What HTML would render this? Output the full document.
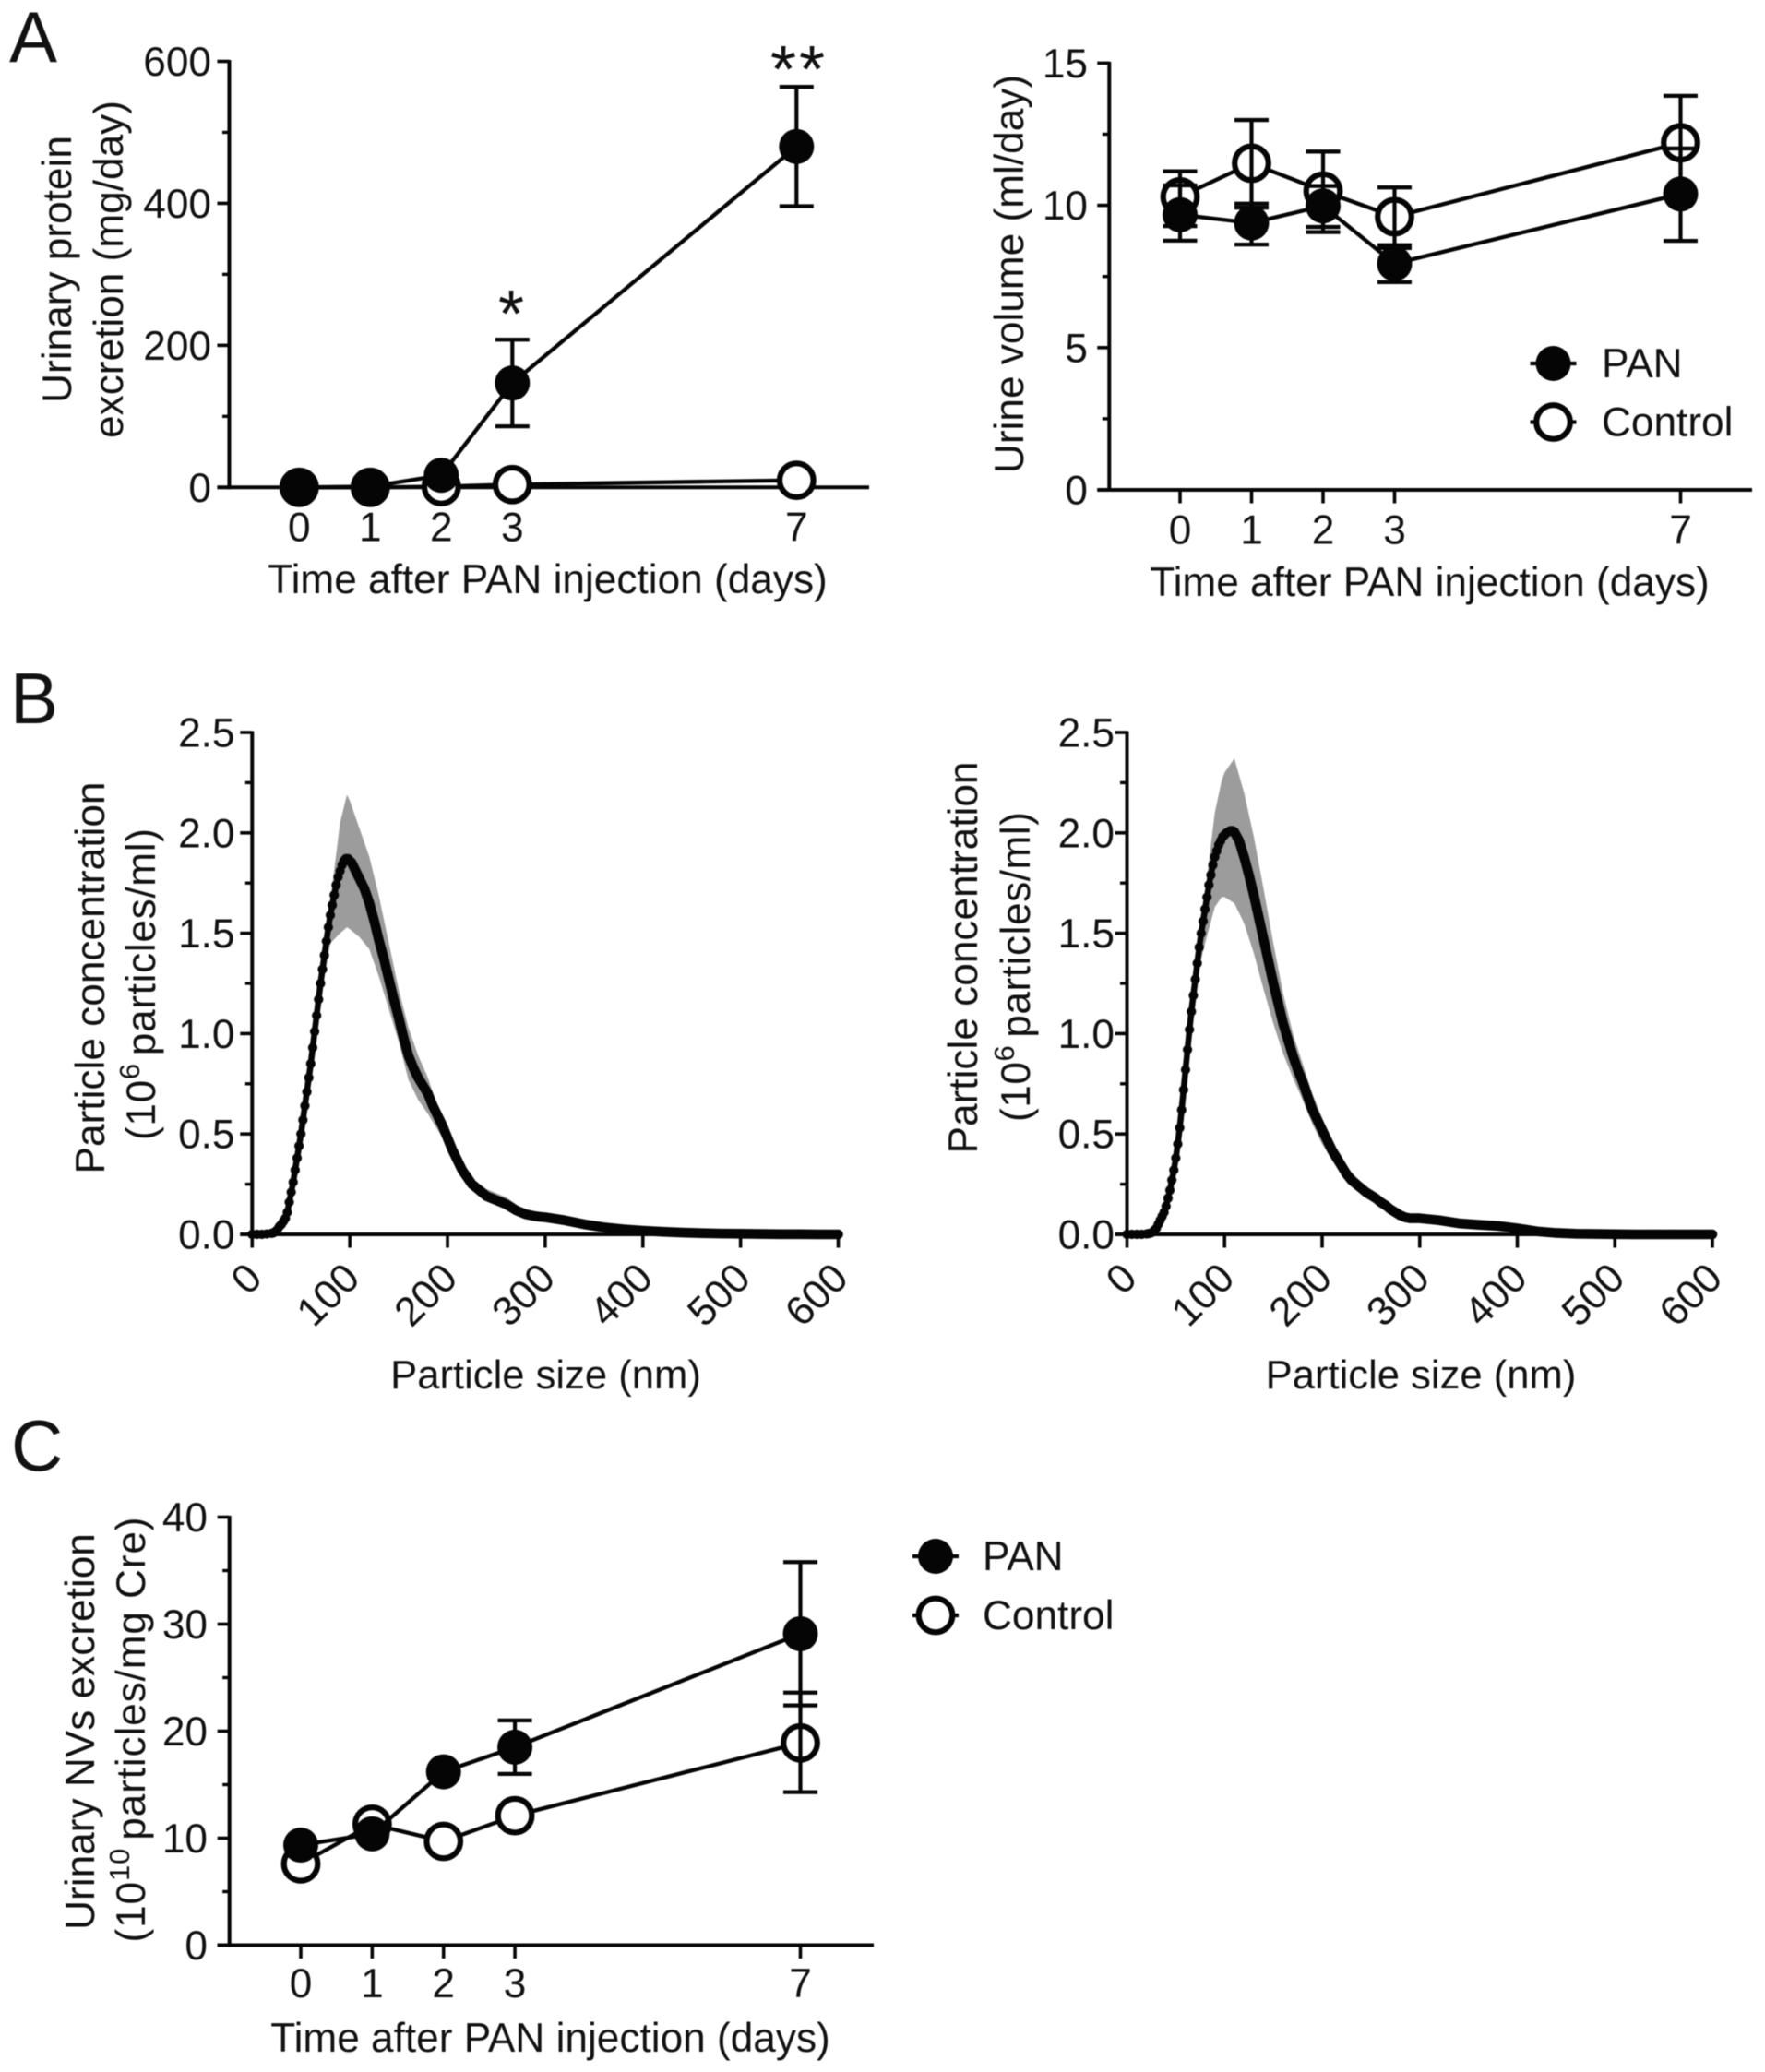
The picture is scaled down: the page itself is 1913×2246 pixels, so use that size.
<!DOCTYPE html>
<html lang="en">
<head>
<meta charset="utf-8">
<title>PAN nephrosis urinary measurements</title>
<style>
html,body{margin:0;padding:0;background:#fff;}
svg{display:block;filter:blur(0.6px);}
text{font-family:"Liberation Sans",Arial,sans-serif;font-size:44.2px;fill:#111;}
.panel{font-size:78px;}
</style>
</head>
<body>
<svg id="figure" width="1913" height="2246" viewBox="0 0 1913 2246" xmlns="http://www.w3.org/2000/svg">
<rect x="0" y="0" width="1913" height="2246" fill="#fff"/>
<text class="panel" x="10" y="67">A</text>
<text class="panel" x="11" y="784">B</text>
<text class="panel" x="12" y="1594">C</text>

<text transform="translate(77,292) rotate(-90)" text-anchor="middle">Urinary protein</text>
<text transform="translate(133,292) rotate(-90)" text-anchor="middle">excretion (mg/day)</text>
<text x="593.5" y="643" text-anchor="middle">Time after PAN injection (days)</text>
<text x="554" y="365" text-anchor="middle" style="font-size:72px">*</text>
<text x="866" y="100" text-anchor="middle" style="font-size:72px;letter-spacing:3px">**</text>

<text transform="translate(1109,297) rotate(-90)" text-anchor="middle">Urine volume (ml/day)</text>
<text x="1549.5" y="646" text-anchor="middle">Time after PAN injection (days)</text>

<text transform="translate(113,1060) rotate(-90)" text-anchor="middle">Particle concentration</text>
<text transform="translate(168,1067) rotate(-90)" text-anchor="middle" textLength="338">(10<tspan dy="-17" style="font-size:31px">6</tspan><tspan dy="17" dx="8">particles/ml)</tspan></text>
<text x="591.5" y="1505" text-anchor="middle" style="font-size:43.6px">Particle size (nm)</text>

<text transform="translate(1059,1038) rotate(-90)" text-anchor="middle">Particle concentration</text>
<text transform="translate(1116,1048) rotate(-90)" text-anchor="middle" textLength="336">(10<tspan dy="-17" style="font-size:31px">6</tspan><tspan dy="17" dx="8">particles/ml)</tspan></text>
<text x="1540" y="1505" text-anchor="middle" style="font-size:43.6px">Particle size (nm)</text>

<text transform="translate(102,1877) rotate(-90)" text-anchor="middle">Urinary NVs excretion</text>
<text transform="translate(157,1875) rotate(-90)" text-anchor="middle" textLength="461">(10<tspan dy="-17" style="font-size:31px">10</tspan><tspan dy="17" dx="8">particles/mg Cre)</tspan></text>
<text x="596.5" y="2224" text-anchor="middle">Time after PAN injection (days)</text>
</svg>

<script>
// ---------- shared categories and tick labels ----------
const dayCategories = [0, 1, 2, 3, 7];
const proteinTicks = [0, 200, 400, 600];
const proteinMinorTicks = [100, 300, 500];
const volumeTicks = [0, 5, 10, 15];
const volumeMinorTicks = [2.5, 7.5, 12.5];
const concentrationTicks = ["0.0", "0.5", "1.0", "1.5", "2.0", "2.5"];
const concentrationMinorTicks = [0.25, 0.75, 1.25, 1.75, 2.25];
const sizeTicks = [0, 100, 200, 300, 400, 500, 600];
const nvTicks = [0, 10, 20, 30, 40];
const nvMinorTicks = [5, 15, 25, 35];

// ---------- A: urinary protein ----------
const proteinPan = [0, 1, 17, 147, 480];
const proteinPanUpper = [null, null, null, 208, 564];
const proteinPanLower = [null, null, null, 86, 396];
const proteinControl = [0, 0, 1, 4, 10];

// ---------- A: urine volume ----------
const volumePan = [9.67, 9.38, 9.98, 7.95, 10.4];
const volumePanUpper = [10.7, 10.06, 10.68, 8.6, 12.0];
const volumePanLower = [8.76, 8.62, 9.06, 7.3, 8.75];
const volumeControl = [10.3, 11.48, 10.5, 9.6, 12.2];
const volumeControlUpper = [11.2, 13.0, 11.89, 10.63, 13.85];
const volumeControlLower = [9.27, 9.92, 9.24, 8.5, 10.5];

// ---------- B: particle size distributions ----------
const particleSizes = [
  0, 5, 10, 15,
  20, 22, 24, 26, 28, 30, 32, 34, 36, 38,
  40, 42, 44, 46, 48, 50, 52, 54, 56, 58,
  60, 62, 64, 66, 68, 70, 72, 74, 76, 78,
  80, 82, 84, 86, 88, 90, 92, 94, 96, 98,
  100, 102, 104, 106, 108, 110,
  115, 120, 125, 130, 135, 140, 145, 150, 155, 160,
  165, 170, 175, 180, 185, 190, 195, 200, 205, 210,
  215, 220, 225, 230, 235, 240, 245, 250, 255, 260,
  265, 270, 275, 280, 285, 290, 295, 300,
  320, 340, 360, 380, 400, 420, 440, 460, 480, 500,
  520, 540, 560, 580, 600
];
const leftMean = [
  0, 0, 0, 0.002,
  0.005, 0.008, 0.015, 0.025, 0.04, 0.05, 0.065, 0.08, 0.11, 0.16,
  0.21, 0.26, 0.32, 0.38, 0.44, 0.5, 0.57, 0.64, 0.71, 0.78,
  0.85, 0.93, 1.01, 1.09, 1.17, 1.25, 1.32, 1.39, 1.46, 1.53,
  1.59, 1.64, 1.69, 1.74, 1.78, 1.81, 1.84, 1.86, 1.87, 1.87,
  1.86, 1.85, 1.83, 1.81, 1.79, 1.77,
  1.72, 1.65, 1.56, 1.46, 1.37, 1.27, 1.17, 1.08, 0.98, 0.89,
  0.83, 0.78, 0.74, 0.70, 0.64, 0.59, 0.54, 0.48, 0.42, 0.37,
  0.32, 0.285, 0.25, 0.23, 0.21, 0.19, 0.18, 0.17, 0.16, 0.15,
  0.135, 0.12, 0.11, 0.10, 0.095, 0.09, 0.087, 0.085,
  0.07, 0.05, 0.035, 0.025, 0.018, 0.013, 0.009, 0.006, 0.004, 0.003,
  0.002, 0.001, 0.001, 0, 0
];
const rightMean = [
  0, 0, 0, 0,
  0.002, 0.004, 0.006, 0.01, 0.02, 0.03, 0.05, 0.07, 0.09, 0.11,
  0.14, 0.18, 0.22, 0.27, 0.32, 0.38, 0.45, 0.53, 0.62, 0.72,
  0.82, 0.92, 1.02, 1.11, 1.19, 1.27, 1.35, 1.43, 1.50, 1.56,
  1.62, 1.68, 1.74, 1.79, 1.84, 1.88, 1.91, 1.94, 1.96, 1.98,
  1.99, 2.0, 2.005, 2.01, 2.01, 2.005,
  1.96, 1.88, 1.79, 1.69, 1.58, 1.47, 1.36, 1.25, 1.15, 1.05,
  0.97, 0.89, 0.82, 0.76, 0.69, 0.62, 0.57, 0.52, 0.47, 0.42,
  0.38, 0.34, 0.30, 0.27, 0.25, 0.23, 0.21, 0.195, 0.18, 0.16,
  0.145, 0.125, 0.11, 0.095, 0.085, 0.08, 0.08, 0.08,
  0.07, 0.055, 0.048, 0.042, 0.03, 0.015, 0.007, 0.003, 0.002, 0.001,
  0, 0, 0, 0, 0
];
const bandSizes = [60, 70, 80, 90, 97, 100, 110, 120, 130, 140, 150, 160, 170, 180, 190, 200, 210, 220, 230, 240, 250, 260, 270, 280, 290, 300, 310];
const leftUpper = [0.85, 1.27, 1.66, 2.05, 2.19, 2.16, 2.02, 1.88, 1.68, 1.45, 1.22, 1.03, 0.89, 0.78, 0.63, 0.5, 0.39, 0.31, 0.26, 0.225, 0.205, 0.185, 0.15, 0.115, 0.10, 0.09, 0.08];
const leftLower = [0.85, 1.18, 1.45, 1.5, 1.53, 1.52, 1.48, 1.42, 1.28, 1.12, 0.96, 0.77, 0.67, 0.6, 0.52, 0.44, 0.34, 0.26, 0.21, 0.17, 0.15, 0.135, 0.11, 0.09, 0.08, 0.08, 0.08];
const rightUpper = [0.82, 1.3, 1.7, 2.1, 2.26, 2.3, 2.37, 2.2, 1.98, 1.72, 1.45, 1.2, 1.0, 0.85, 0.7, 0.58, 0.47, 0.38, 0.31, 0.26, 0.22, 0.18, 0.14, 0.105, 0.09, 0.085, 0.08];
const rightLower = [0.82, 1.25, 1.45, 1.63, 1.68, 1.68, 1.65, 1.55, 1.4, 1.22, 1.05, 0.9, 0.78, 0.67, 0.55, 0.45, 0.37, 0.3, 0.24, 0.2, 0.17, 0.14, 0.11, 0.085, 0.07, 0.07, 0.08];

// ---------- C: urinary NVs ----------
const nvPan = [9.35, 10.4, 16.2, 18.5, 29.1];
const nvPanUpper = [null, null, null, 21.0, 35.8];
const nvPanLower = [null, null, null, 16.0, 22.4];
const nvControl = [7.6, 11.3, 9.7, 12.1, 18.9];
const nvControlUpper = [null, null, null, null, 23.6];
const nvControlLower = [null, null, null, null, 14.3];

// ---------- drawing helpers ----------
const NS = "http://www.w3.org/2000/svg";
const root = document.getElementById("figure");
const INK = "#050505";

function linear(d0, d1, r0, r1) {
  return function (v) { return r0 + (v - d0) * (r1 - r0) / (d1 - d0); };
}
function node(tag, attrs) {
  const n = document.createElementNS(NS, tag);
  for (const k in attrs) n.setAttribute(k, attrs[k]);
  root.appendChild(n);
  return n;
}
function seg(x1, y1, x2, y2, w) {
  return node("line", { x1: x1, y1: y1, x2: x2, y2: y2, stroke: INK, "stroke-width": w });
}

function drawAxes(prefix, xs, ys, opt) {
  const x0 = xs(opt.xDomain[0]);
  const y0 = ys(opt.yDomain[0]);
  const yTop = ys(opt.yDomain[1]);
  const xAxis = seg(x0 - 13, y0, opt.xEnd, y0, 4);
  
  
  const yAxis = seg(x0, yTop - 1.5, x0, y0 + 2, 4);
  
  

  opt.yTicks.forEach(function (t) {
    const v = Number(t);
    const tick = seg(x0 - 13, ys(v), x0, ys(v), 3.6);
    
    
    const label = node("text", { x: opt.yLabelX, y: ys(v) + 15.5, "text-anchor": "end" });
    label.textContent = t;
    
    
  });
  opt.yMinor.forEach(function (v) {
    const tick = seg(x0 - 7.5, ys(v), x0, ys(v), 3.4);
    
    
  });
  opt.xTicks.forEach(function (t) {
    if (opt.xTickMarks) {
      const tick = seg(xs(t), y0, xs(t), y0 + 14.5, 3.6);
      
      
    }
    const attrs = opt.rotateX
      ? { transform: "translate(" + (xs(t) + 13) + "," + opt.xLabelY + ") rotate(-45)", "text-anchor": "end" }
      : { x: xs(t), y: opt.xLabelY, "text-anchor": "middle" };
    const label = node("text", attrs);
    label.textContent = t;
    
    
  });
}

function drawLineSeries(prefix, kind, xs, ys, values) {
  const pts = dayCategories.map(function (d, i) { return xs(d) + "," + ys(values[i]); }).join(" ");
  const line = node("polyline", { points: pts, fill: "none", stroke: INK, "stroke-width": 4.3, "stroke-linejoin": "round" });
  
  
}
function drawErrorBars(prefix, kind, xs, ys, upper, lower) {
  dayCategories.forEach(function (d, i) {
    if (upper[i] === null || lower[i] === null) return;
    const x = xs(d);
    const stem = seg(x, ys(upper[i]), x, ys(lower[i]), 4.2);
    
    
    const capTop = seg(x - 18.5, ys(upper[i]), x + 18.5, ys(upper[i]), 4.3);
    
    
    const capBottom = seg(x - 18.5, ys(lower[i]), x + 18.5, ys(lower[i]), 4.3);
    
    
  });
}
function circleFor(kind, x, y) {
  return kind === "pan"
    ? node("circle", { cx: x, cy: y, r: 19, fill: INK })
    : node("circle", { cx: x, cy: y, r: 18.3, fill: "#fff", stroke: INK, "stroke-width": 6.2 });
}
function drawMarkers(prefix, kind, xs, ys, values) {
  dayCategories.forEach(function (d, i) {
    const c = circleFor(kind, xs(d), ys(values[i]));
    
    
  });
}
function drawSeries(prefix, kind, xs, ys, values, upper, lower) {
  drawLineSeries(prefix, kind, xs, ys, values);
  drawMarkers(prefix, kind, xs, ys, values);
  drawErrorBars(prefix, kind, xs, ys, upper, lower);
}
function drawLegend(prefix, markerX, labelX, panY, controlY) {
  [["pan", "PAN", panY], ["control", "Control", controlY]].forEach(function (e) {
    const swatchLine = seg(markerX - 25, e[2], markerX + 25, e[2], 4.2);
    
    
    const swatch = circleFor(e[0], markerX, e[2]);
    
    
    const label = node("text", { x: labelX, y: e[2] + 15 });
    label.textContent = e[1];
    
    
  });
}
function drawDistribution(prefix, xs, ys, mean, upper, lower) {
  const top = bandSizes.map(function (s, i) { return xs(s) + "," + ys(upper[i]); });
  const bottom = bandSizes.map(function (s, i) { return xs(s) + "," + ys(lower[i]); }).reverse();
  const band = node("polygon", { points: top.concat(bottom).join(" "), fill: "#9c9c9c" });
  
  
  const peak = mean.indexOf(Math.max.apply(null, mean));
  const toPoint = function (s) { return xs(s) + "," + ys(mean[particleSizes.indexOf(s)]); };
  const rising = node("polyline", { points: particleSizes.slice(0, peak + 1).map(toPoint).join(" "), fill: "none", stroke: INK, "stroke-width": 6.6, "stroke-linejoin": "round" });
  
  
  const falling = node("polyline", { points: particleSizes.slice(peak).map(toPoint).join(" "), fill: "none", stroke: INK, "stroke-width": 10.6, "stroke-linejoin": "round", "stroke-linecap": "round" });
  
  
  particleSizes.forEach(function (s, i) {
    const dot = node("circle", { cx: xs(s), cy: ys(mean[i]), r: 5.1, fill: INK });
    
    
  });
}

// ---------- A left ----------
const proteinX = linear(0, 7, 324.3, 863.3);
const proteinY = linear(0, 600, 528.3, 66.5);
drawAxes("protein", proteinX, proteinY, {
  xDomain: [-0.985, 7], yDomain: [0, 600], xEnd: 942,
  yTicks: proteinTicks, yMinor: proteinMinorTicks, yLabelX: 229,
  xTicks: dayCategories, xTickMarks: false, xLabelY: 586.5
});
drawSeries("protein", "control", proteinX, proteinY, proteinControl, [null,null,null,null,null], [null,null,null,null,null]);
drawSeries("protein", "pan", proteinX, proteinY, proteinPan, proteinPanUpper, proteinPanLower);

// ---------- A right ----------
const volumeX = linear(0, 7, 1279, 1821.5);
const volumeY = linear(0, 15, 531, 68.4);
drawAxes("volume", volumeX, volumeY, {
  xDomain: [-0.99, 7], yDomain: [0, 15], xEnd: 1899,
  yTicks: volumeTicks, yMinor: volumeMinorTicks, yLabelX: 1179,
  xTicks: dayCategories, xTickMarks: true, xLabelY: 589.5
});
drawSeries("volume", "control", volumeX, volumeY, volumeControl, volumeControlUpper, volumeControlLower);
drawSeries("volume", "pan", volumeX, volumeY, volumePan, volumePanUpper, volumePanLower);
drawLegend("volume", 1683.5, 1736, 394, 457.5);

// ---------- B left ----------
const sizeLeftX = linear(0, 600, 273.3, 908.5);
const sizeLeftY = linear(0, 2.5, 1338, 794);
drawAxes("size-left", sizeLeftX, sizeLeftY, {
  xDomain: [0, 600], yDomain: [0, 2.5], xEnd: 908.5,
  yTicks: concentrationTicks, yMinor: concentrationMinorTicks, yLabelX: 254.5,
  xTicks: sizeTicks, xTickMarks: true, xLabelY: 1388, rotateX: true
});
drawDistribution("size-left", sizeLeftX, sizeLeftY, leftMean, leftUpper, leftLower);

// ---------- B right ----------
const sizeRightX = linear(0, 600, 1221.5, 1856);
const sizeRightY = linear(0, 2.5, 1338, 794);
drawAxes("size-right", sizeRightX, sizeRightY, {
  xDomain: [0, 600], yDomain: [0, 2.5], xEnd: 1856,
  yTicks: concentrationTicks, yMinor: concentrationMinorTicks, yLabelX: 1208,
  xTicks: sizeTicks, xTickMarks: true, xLabelY: 1388, rotateX: true
});
drawDistribution("size-right", sizeRightX, sizeRightY, rightMean, rightUpper, rightLower);

// ---------- C ----------
const nvX = linear(0, 7, 326, 867.5);
const nvY = linear(0, 40, 2108.5, 1644.5);
drawAxes("nv", nvX, nvY, {
  xDomain: [-1, 7], yDomain: [0, 40], xEnd: 947,
  yTicks: nvTicks, yMinor: nvMinorTicks, yLabelX: 225,
  xTicks: dayCategories, xTickMarks: true, xLabelY: 2165
});
drawSeries("nv", "control", nvX, nvY, nvControl, nvControlUpper, nvControlLower);
drawSeries("nv", "pan", nvX, nvY, nvPan, nvPanUpper, nvPanLower);
drawLegend("nv", 1014, 1065, 1687, 1751);
</script>
</body>
</html>
